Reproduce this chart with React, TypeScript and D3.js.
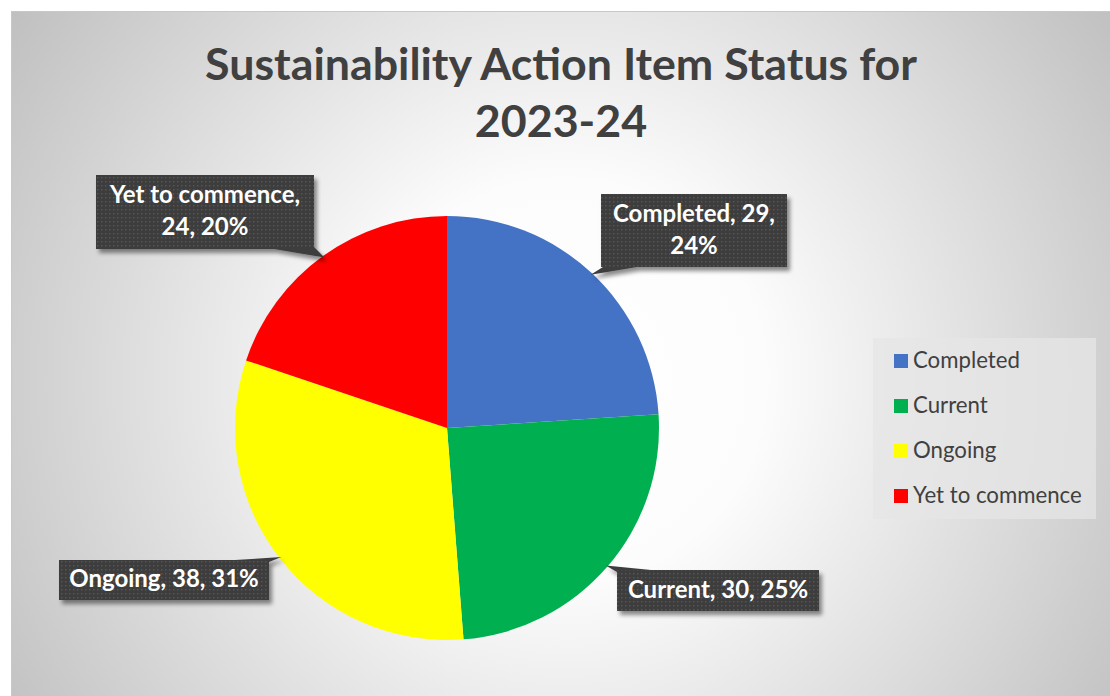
import { useEffect, useRef } from "react";
import * as d3 from "d3";

const categories = ["Completed", "Current", "Ongoing", "Yet to commence"];
const counts = [29, 30, 38, 24];
const percents = ["24%", "25%", "31%", "20%"];
const colors = ["#4472C4", "#00B050", "#FFFF00", "#FF0000"];

// label text lines, as drawn in the callouts
const labelLines = [
  ["Completed, 29,", "24%"],
  ["Current, 30, 25%"],
  ["Ongoing, 38, 31%"],
  ["Yet to commence,", "24, 20%"],
];

// callout boxes: x, y, w, h
const boxes = [
  [601, 194, 186, 73],
  [617, 570, 202, 41],
  [59, 560, 210, 40],
  [96, 175, 218, 74],
];
// target text widths for fitting (first line)
const textWidths = [166, 181, 190, 196];

const W = 1110;
const H = 696;
const cx = 447;
const cy = 428;
const R = 212;
const FONT = "Lato, 'Open Sans', sans-serif";

export default function App() {
  const titleRef = useRef<SVGGElement>(null);
  const labelsRef = useRef<SVGGElement>(null);
  const legendRef = useRef<SVGGElement>(null);

  const pie = d3
    .pie<number>()
    .sort(null)
    .value((d) => d);
  const arcs = pie(counts);
  const arc = d3.arc<d3.PieArcDatum<number>>().innerRadius(0).outerRadius(R);
  const edge = d3.arc<d3.PieArcDatum<number>>().innerRadius(R - 2).outerRadius(R - 2);

  useEffect(() => {
    // fit title to reference width
    const t = d3.select(titleRef.current);
    const first = t.select<SVGTextElement>("text.l1").node();
    if (first) {
      const w = first.getComputedTextLength();
      const fs = (44 * 712) / w;
      t.selectAll("text").attr("font-size", fs);
    }
    d3.select(labelsRef.current)
      .selectAll<SVGGElement, unknown>("g.lab")
      .each(function (_, i) {
        const g = d3.select(this);
        const n = g.select<SVGTextElement>("text").node();
        if (!n) return;
        const w = n.getComputedTextLength();
        const fs = Math.min(24, (20 * textWidths[i]) / w);
        g.selectAll("text").attr("font-size", fs);
      });
    const lt = d3.select(legendRef.current).select<SVGTextElement>("text").node();
    if (lt) {
      const w = lt.getComputedTextLength();
      const fs = (20 * 107) / w;
      d3.select(legendRef.current).selectAll("text").attr("font-size", fs);
    }
  }, []);

  return (
    <div style={{ position: "fixed", left: 0, top: 0 }}>
      <svg width={W} height={H} style={{ display: "block" }}>
        <defs>
          <radialGradient id="bg" gradientUnits="userSpaceOnUse" cx={565} cy={380} r={670}>
            <stop offset="0" stopColor="#ffffff" />
            <stop offset="0.3" stopColor="#fcfcfc" />
            <stop offset="1" stopColor="#bfbfbf" />
          </radialGradient>
          <pattern id="dots" width={4} height={4} patternUnits="userSpaceOnUse">
            <rect width={4} height={4} fill="#3d3d3d" />
            <rect x={1} y={1} width={1.5} height={1.5} fill="#545454" />
          </pattern>
          <filter id="shadow" x="-10%" y="-20%" width="130%" height="160%">
            <feDropShadow dx={3} dy={4} stdDeviation={2} floodColor="#000" floodOpacity={0.45} />
          </filter>
        </defs>
        <rect x={0} y={0} width={W} height={H} fill="#fff" />
        <rect x={11.5} y={11.5} width={W + 20} height={H + 20} fill="url(#bg)" stroke="#c8c8c8" />

        <g ref={titleRef} fill="#404040" fontFamily={FONT} fontWeight="bold" textAnchor="middle">
          <text className="l1" x={561} y={80} fontSize={44}>
            Sustainability Action Item Status for
          </text>
          <text x={561} y={137} fontSize={44}>
            2023-24
          </text>
        </g>

        <g>
          {arcs.map((a, i) => (
            <path key={categories[i]} d={arc(a) ?? ""} transform={`translate(${cx},${cy})`} fill={colors[i]} />
          ))}
        </g>

        <g ref={labelsRef} fontFamily={FONT} fontWeight="bold">
          {arcs.map((a, i) => {
            const [bx, by, bw, bh] = boxes[i];
            const [px, py] = edge.centroid(a);
            const ax = cx + px;
            const ay = cy + py;
            // wedge base on the box edge nearest the apex
            let base: [number, number][];
            if (i === 0) base = [[bx + 2, by + bh], [bx + 36, by + bh]];
            else if (i === 1) base = [[bx, by + 2], [bx + 34, by]];
            else if (i === 2) base = [[bx + bw - 34, by], [bx + bw, by + 2]];
            else base = [[bx + bw - 40, by + bh], [bx + bw, by + bh - 2]];
            const pts = [base[0], [ax, ay], base[1]].map((p) => p.join(",")).join(" ");
            const lines = labelLines[i];
            const lh = 32;
            const mid = by + bh / 2;
            const y0 = mid - ((lines.length - 1) * lh) / 2 + 7;
            return (
              <g key={categories[i]} className="lab">
                <g filter="url(#shadow)">
                  <polygon points={pts} fill="#3d3d3d" />
                  <rect x={bx} y={by} width={bw} height={bh} fill="url(#dots)" />
                </g>
                {lines.map((l, j) => (
                  <text key={j} x={bx + bw / 2} y={y0 + j * lh} fill="#ffffff" fontSize={20} textAnchor="middle">
                    {l}
                  </text>
                ))}
              </g>
            );
          })}
        </g>

        <g>
          <rect x={873} y={338} width={223} height={181} fill="#e6e6e6" fillOpacity={0.75} />
        </g>
        <g ref={legendRef} fontFamily={FONT} fill="#404040">
          {categories.map((c, i) => (
            <g key={c} transform={`translate(894,${361 + i * 45})`}>
              <rect x={0} y={-7} width={14} height={14} fill={colors[i]} />
              <text x={19} y={7} fontSize={20}>
                {c}
              </text>
            </g>
          ))}
        </g>
      </svg>
    </div>
  );
}
